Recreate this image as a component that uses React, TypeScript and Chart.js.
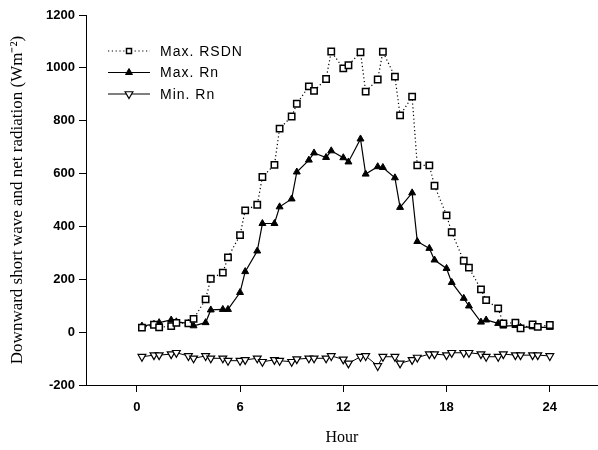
import React, { useEffect, useRef } from 'react';
import { Chart, registerables } from 'chart.js';

Chart.register(...registerables);

const hours = [0.3, 1, 1.3, 2, 2.3, 3, 3.3, 4, 4.3, 5, 5.3, 6, 6.3, 7, 7.3, 8, 8.3, 9, 9.3, 10, 10.3, 11, 11.3,
  12, 12.3, 13, 13.3, 14, 14.3, 15, 15.3, 16, 16.3, 17, 17.3, 18, 18.3, 19, 19.3, 20, 20.3, 21, 21.3, 22, 22.3, 23, 23.3, 24];

const maxRSDN = [17, 28, 18, 23, 35, 33, 50, 124, 202, 225, 283, 367, 461, 482, 587, 633, 770, 816, 864, 930, 913, 958, 1062,
  998, 1010, 1059, 910, 956, 1061, 967, 820, 891, 631, 631, 554, 442, 378, 270, 244, 162, 121, 90, 33, 36, 14, 29, 20, 27];

const maxRn = [23, 30, 36, 46, 39, 33, 24, 36, 84, 86, 86, 150, 229, 307, 411, 411, 474, 504, 606, 651, 678, 661, 686,
  660, 644, 731, 598, 626, 623, 584, 472, 527, 343, 317, 273, 241, 188, 128, 99, 38, 46, 33, 23, 25, 18, 20, 18, 18];

const minRn = [-93, -87, -87, -83, -78, -90, -99, -90, -99, -99, -108, -108, -105, -99, -112, -105, -108, -112, -102, -99, -99, -99, -90,
  -103, -118, -93, -90, -128, -93, -93, -118, -105, -96, -83, -83, -87, -78, -78, -78, -83, -93, -93, -83, -87, -87, -87, -87, -90];

const seriesLabels = ['Max. RSDN', 'Max. Rn', 'Min. Rn'];
const xTicks = [0, 6, 12, 18, 24];
const yTicks = [-200, 0, 200, 400, 600, 800, 1000, 1200];
const xTitle = 'Hour';
const yTitle = 'Downward short wave and net radiation (Wm\u207B\u00B2)';

function drawMarker(ctx: CanvasRenderingContext2D, kind: string, x: number, y: number) {
  ctx.save();
  ctx.setLineDash([]);
  ctx.strokeStyle = '#000';
  ctx.beginPath();
  if (kind === 'square') {
    ctx.lineWidth = 1.5;
    ctx.fillStyle = '#fff';
    ctx.rect(x - 2.5, y - 2.5, 5, 5);
    ctx.fill();
    ctx.stroke();
  } else if (kind === 'up') {
    const r = 4;
    ctx.lineWidth = 1;
    ctx.fillStyle = '#000';
    ctx.moveTo(x, y - r);
    ctx.lineTo(x + r * 0.866, y + r / 2);
    ctx.lineTo(x - r * 0.866, y + r / 2);
    ctx.closePath();
    ctx.fill();
    ctx.stroke();
  } else {
    const r = 4.5;
    ctx.lineWidth = 1.2;
    ctx.fillStyle = '#fff';
    ctx.moveTo(x, y + r);
    ctx.lineTo(x + r * 0.866, y - r / 2);
    ctx.lineTo(x - r * 0.866, y - r / 2);
    ctx.closePath();
    ctx.fill();
    ctx.stroke();
  }
  ctx.restore();
}

const legendPlugin = {
  id: 'insideLegend',
  afterDraw(chart: any) {
    const { ctx, chartArea } = chart;
    const items = [
      { label: seriesLabels[0], dash: [1.2, 2.6], marker: 'square' },
      { label: seriesLabels[1], dash: [], marker: 'up' },
      { label: seriesLabels[2], dash: [], marker: 'down' },
    ];
    ctx.save();
    items.forEach((it, i) => {
      const y = chartArea.top + 36 + i * 21.5;
      const x0 = chartArea.left + 22;
      const x1 = chartArea.left + 64;
      ctx.strokeStyle = '#000';
      ctx.lineWidth = 1.2;
      ctx.setLineDash(it.dash);
      ctx.beginPath();
      ctx.moveTo(x0, y);
      ctx.lineTo(x1, y);
      ctx.stroke();
      drawMarker(ctx, it.marker, (x0 + x1) / 2, y);
      ctx.fillStyle = '#000';
      ctx.font = '14px "Liberation Sans", Arial, sans-serif';
      ctx.textBaseline = 'middle';
      ctx.textAlign = 'left';
      (ctx as any).letterSpacing = '1px';
      ctx.fillText(it.label, chartArea.left + 74, y + 1);
      (ctx as any).letterSpacing = '0px';
    });
    ctx.restore();
  },
};

export default function App() {
  const ref = useRef<HTMLCanvasElement | null>(null);
  useEffect(() => {
    if (!ref.current) return;
    const mk = (vals: number[]) => hours.map((h, i) => ({ x: h, y: vals[i] }));
    const tickFont = { family: '"Liberation Sans", Arial, sans-serif', size: 13, weight: 'bold' as const };
    const chart = new Chart(ref.current, {
      type: 'line',
      data: {
        datasets: [
          {
            label: seriesLabels[0],
            data: mk(maxRSDN),
            borderColor: '#000',
            borderWidth: 1.2,
            borderDash: [1.2, 2.6],
            pointStyle: 'rect',
            pointRadius: 4.5,
            pointBorderWidth: 1.5,
            pointBorderColor: '#000',
            pointBackgroundColor: '#fff',
            fill: false,
            tension: 0,
          },
          {
            label: seriesLabels[1],
            data: mk(maxRn),
            borderColor: '#000',
            borderWidth: 1.2,
            pointStyle: 'triangle',
            pointRadius: 4,
            pointBorderWidth: 1,
            pointBorderColor: '#000',
            pointBackgroundColor: '#000',
            fill: false,
            tension: 0,
          },
          {
            label: seriesLabels[2],
            data: mk(minRn),
            borderColor: '#000',
            borderWidth: 1,
            pointStyle: 'triangle',
            rotation: 180,
            pointRadius: 4.5,
            pointBorderWidth: 1.2,
            pointBorderColor: '#000',
            pointBackgroundColor: '#fff',
            fill: false,
            tension: 0,
          },
        ],
      },
      options: {
        responsive: false,
        animation: false,
        devicePixelRatio: 1,
        layout: { autoPadding: false, padding: { top: 15, right: 0, left: 0, bottom: 0 } },
        plugins: { legend: { display: false }, tooltip: { enabled: false } },
        scales: {
          x: {
            type: 'linear',
            min: -2.95,
            max: 26.8,
            afterFit: (s: any) => { s.height = 65; s.paddingRight = 0; s.paddingLeft = 0; },
            afterBuildTicks: (s: any) => { s.ticks = xTicks.map((v) => ({ value: v })); },
            grid: { display: true, drawOnChartArea: false, drawTicks: true, tickLength: 7, color: '#000', lineWidth: 1 },
            border: { display: true, color: '#000', width: 1 },
            ticks: { color: '#000', font: tickFont, padding: 8, maxRotation: 0, callback: (v: any) => String(v) },
            title: {
              display: true,
              text: xTitle,
              color: '#000',
              font: { family: '"Liberation Serif", "Times New Roman", serif', size: 16 },
              padding: { top: 0, bottom: 3 },
            },
          },
          y: {
            type: 'linear',
            min: -200,
            max: 1200,
            afterFit: (s: any) => { s.width = 86; },
            afterBuildTicks: (s: any) => { s.ticks = yTicks.map((v) => ({ value: v })); },
            grid: { display: true, drawOnChartArea: false, drawTicks: true, tickLength: 7, color: '#000', lineWidth: 1 },
            border: { display: true, color: '#000', width: 1 },
            ticks: { color: '#000', font: tickFont, padding: 4, callback: (v: any) => String(v) },
            title: {
              display: true,
              text: yTitle,
              color: '#000',
              font: { family: '"Liberation Serif", "Times New Roman", serif', size: 17 },
              padding: { top: 7, bottom: 0 },
            },
          },
        },
      },
      plugins: [legendPlugin],
    });
    return () => chart.destroy();
  }, []);
  return (
    <div style={{ position: 'fixed', left: 0, top: 0, width: 598, height: 450, background: '#fff' }}>
      <canvas ref={ref} width={598} height={450} style={{ display: 'block' }} />
    </div>
  );
}
